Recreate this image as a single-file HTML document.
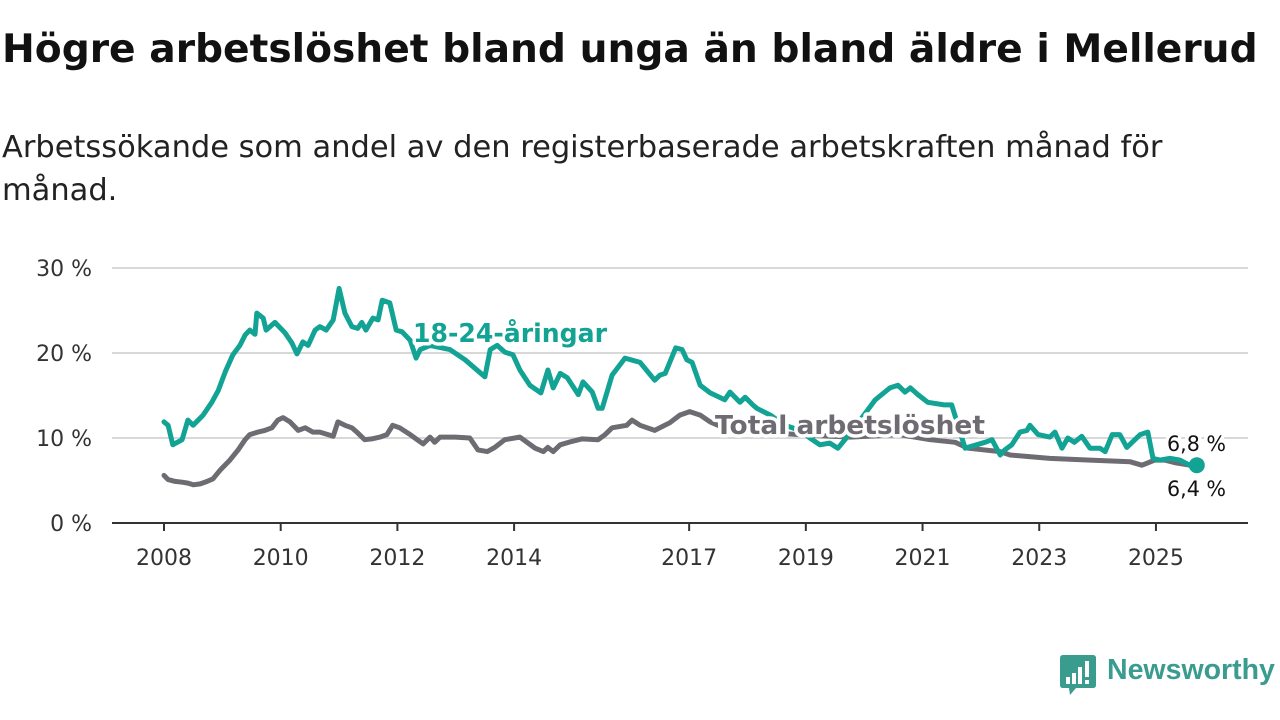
<!DOCTYPE html>
<html><head><meta charset="utf-8">
<style>
body{margin:0;width:1280px;height:720px;background:#fff;font-family:"DejaVu Sans","Liberation Sans",sans-serif;overflow:hidden;position:relative;color:#111}
h1{position:absolute;left:2px;top:27px;margin:0;font-size:36px;font-weight:bold;color:#111;white-space:nowrap}
.sub{position:absolute;left:2px;top:126px;margin:0;font-size:27px;line-height:43px;color:#222;white-space:nowrap}
svg{position:absolute;left:0;top:0}
.logo{position:absolute;left:1060px;top:655px}
.logo-text{position:absolute;left:1107px;top:654px;font-size:28px;color:#3a9b8f;font-weight:bold;white-space:nowrap;font-family:"Liberation Sans",sans-serif}
</style></head><body>
<h1 id="title">Högre arbetslöshet bland unga än bland äldre i Mellerud</h1>
<p class="sub"><span id="sub1">Arbetssökande som andel av den registerbaserade arbetskraften månad för</span><br>månad.</p>
<svg id="chart" width="1280" height="720"></svg>
<svg class="logo" width="36" height="42"><path d="M3 0H33Q36 0 36 3V30Q36 33 33 33H16L10 40L9 33H3Q0 33 0 30V3Q0 0 3 0Z" fill="#3a9b8f"/><rect x="6" y="22" width="4" height="7" fill="#fff"/><rect x="12" y="18" width="4" height="11" fill="#fff"/><rect x="18" y="12" width="4" height="17" fill="#fff"/><rect x="25" y="6" width="4" height="16" fill="#fff"/><rect x="25" y="25" width="4" height="4" fill="#fff"/></svg>
<div class="logo-text" id="logotext">Newsworthy</div>
<script>
const youthYears=[2008.0,2008.07,2008.15,2008.31,2008.41,2008.5,2008.67,2008.82,2008.93,2009.05,2009.18,2009.3,2009.39,2009.47,2009.56,2009.59,2009.7,2009.75,2009.9,2010.07,2010.19,2010.28,2010.38,2010.47,2010.59,2010.67,2010.78,2010.9,2011.0,2011.1,2011.22,2011.32,2011.39,2011.46,2011.58,2011.67,2011.74,2011.87,2011.98,2012.08,2012.22,2012.32,2012.39,2012.56,2012.9,2013.16,2013.33,2013.5,2013.59,2013.71,2013.84,2013.98,2014.1,2014.27,2014.46,2014.58,2014.67,2014.79,2014.91,2015.1,2015.18,2015.34,2015.44,2015.51,2015.68,2015.9,2016.16,2016.41,2016.5,2016.59,2016.77,2016.88,2016.96,2017.05,2017.19,2017.36,2017.61,2017.7,2017.87,2017.96,2018.09,2018.16,2018.39,2018.64,2018.9,2019.07,2019.24,2019.41,2019.55,2019.67,2019.93,2020.19,2020.44,2020.58,2020.7,2020.79,2020.92,2021.09,2021.37,2021.5,2021.73,2022.07,2022.19,2022.33,2022.41,2022.53,2022.67,2022.79,2022.84,2022.98,2023.18,2023.27,2023.39,2023.49,2023.6,2023.73,2023.87,2024.04,2024.13,2024.25,2024.38,2024.5,2024.73,2024.86,2024.95,2025.07,2025.24,2025.41,2025.58,2025.7];
const youthVals=[11.9,11.5,9.2,9.8,12.1,11.5,12.7,14.2,15.6,17.8,19.8,20.9,22.1,22.7,22.2,24.7,24.1,22.7,23.6,22.4,21.2,19.9,21.3,20.9,22.7,23.1,22.7,23.9,27.6,24.7,23.1,22.9,23.6,22.7,24.1,23.9,26.2,25.9,22.7,22.5,21.5,19.4,20.4,20.9,20.4,19.2,18.2,17.2,20.4,20.9,20.1,19.8,18.0,16.2,15.3,18.0,15.9,17.6,17.1,15.1,16.6,15.4,13.5,13.5,17.4,19.4,18.9,16.8,17.4,17.6,20.6,20.4,19.2,18.9,16.2,15.3,14.5,15.4,14.2,14.8,13.9,13.5,12.7,11.5,10.9,10.0,9.2,9.4,8.8,9.8,12.1,14.5,15.9,16.2,15.4,15.9,15.1,14.2,13.9,13.9,8.8,9.5,9.8,8.0,8.6,9.2,10.7,10.9,11.5,10.4,10.1,10.7,8.8,10.0,9.5,10.2,8.8,8.8,8.4,10.4,10.4,8.9,10.4,10.7,7.6,7.4,7.6,7.4,6.8,6.8];
const totalYears=[2008.0,2008.07,2008.19,2008.31,2008.41,2008.5,2008.62,2008.74,2008.84,2008.96,2009.13,2009.27,2009.39,2009.47,2009.61,2009.73,2009.85,2009.95,2010.04,2010.16,2010.3,2010.42,2010.55,2010.67,2010.81,2010.9,2010.98,2011.1,2011.22,2011.32,2011.44,2011.56,2011.7,2011.82,2011.92,2012.04,2012.22,2012.34,2012.44,2012.56,2012.64,2012.73,2012.99,2013.24,2013.38,2013.54,2013.67,2013.84,2014.1,2014.36,2014.5,2014.58,2014.67,2014.79,2014.99,2015.16,2015.44,2015.56,2015.68,2015.93,2016.02,2016.16,2016.41,2016.67,2016.84,2017.01,2017.19,2017.36,2017.7,2018.21,2018.9,2019.76,2020.61,2021.13,2021.56,2021.78,2022.33,2022.5,2023.18,2023.87,2024.56,2024.76,2024.98,2025.15,2025.32,2025.58,2025.7];
const totalVals=[5.6,5.1,4.9,4.8,4.7,4.5,4.6,4.9,5.2,6.2,7.4,8.6,9.8,10.4,10.7,10.9,11.2,12.1,12.4,11.9,10.9,11.2,10.7,10.7,10.4,10.2,11.9,11.5,11.2,10.6,9.8,9.9,10.1,10.4,11.5,11.2,10.4,9.8,9.3,10.1,9.5,10.1,10.1,10.0,8.6,8.4,8.9,9.8,10.1,8.8,8.4,8.9,8.4,9.2,9.6,9.9,9.8,10.4,11.2,11.5,12.1,11.5,10.9,11.8,12.7,13.1,12.7,11.9,10.9,10.7,10.4,10.1,10.4,9.8,9.5,8.8,8.4,8.0,7.6,7.4,7.2,6.8,7.4,7.4,7.1,6.8,6.4];
const yTicks=[0,10,20,30];
const yTickLabels=["0 %","10 %","20 %","30 %"];
const xTicks=[2008,2010,2012,2014,2017,2019,2021,2023,2025];

function fit(el,w){const cs=parseFloat(getComputedStyle(el).fontSize);const cur=el.getBoundingClientRect().width;el.style.fontSize=(cs*w/cur)+'px';}
const t=document.getElementById('title');fit(t,1256);
const s1=document.getElementById('sub1');const p=s1.parentNode;const f0=parseFloat(getComputedStyle(p).fontSize);p.style.fontSize=(f0*1161/s1.getBoundingClientRect().width)+'px';
fit(document.getElementById('logotext'),168);

const NS="http://www.w3.org/2000/svg";
const svg=document.getElementById('chart');
const X=y=>164+(y-2008)*58.35;
const Y=v=>523-v*8.5;
function mk(tag,attrs,parent){const e=document.createElementNS(NS,tag);for(const k in attrs)e.setAttribute(k,attrs[k]);(parent||svg).appendChild(e);return e;}
const FF='DejaVu Sans, Liberation Sans, sans-serif';
yTicks.forEach((tv,i)=>{
  if(tv>0){const g=mk('line',{x1:112,x2:1248,y1:Y(tv),y2:Y(tv),stroke:'#d8d8d8','stroke-width':2});
  
  }
  const l=mk('text',{x:92,y:Y(tv)+8,'text-anchor':'end','font-size':22,fill:'#333','font-family':FF});
  l.textContent=yTickLabels[i];
  
  
});
const ax=mk('line',{x1:112,x2:1248,y1:Y(0),y2:Y(0),stroke:'#333','stroke-width':2});


xTicks.forEach(tv=>{
  const tk=mk('line',{x1:X(tv),x2:X(tv),y1:Y(0),y2:Y(0)+8,stroke:'#333','stroke-width':2});
  
  
  const l=mk('text',{x:X(tv),y:565,'text-anchor':'middle','font-size':22,fill:'#333','font-family':FF});
  l.textContent=tv;
  
  
});
function line(xs,vs,color,name){
  const d=xs.map((x,i)=>(i?'L':'M')+X(x).toFixed(1)+' '+Y(vs[i]).toFixed(1)).join(' ');
  const pp=mk('path',{d:d,fill:'none',stroke:color,'stroke-width':5,'stroke-linejoin':'round','stroke-linecap':'round'});
  
  
}
line(totalYears,totalVals,'#6e6c72','total-line');
line(youthYears,youthVals,'#12a394','youth-line');
const dot=mk('circle',{cx:X(youthYears[youthYears.length-1]),cy:Y(youthVals[youthVals.length-1]),r:8,fill:'#12a394'});


function label(txt,x,y,color,size,bold,name,len){
  const tt=mk('text',{x:x,y:y,'font-size':size,fill:color,'font-weight':bold?'bold':'normal','font-family':FF,stroke:'#fff','stroke-width':7,'paint-order':'stroke','stroke-linejoin':'round',textLength:len,lengthAdjust:'spacingAndGlyphs'});
  tt.textContent=txt;
  
  
}
label('18-24-åringar',413,342,'#12a394',26,true,'youth-series-label',194);
label('Total arbetslöshet',715,434,'#6e6c72',26,true,'total-series-label',270);
label('6,8 %',1167,451,'#111',21,false,'youth-end-value',59);
label('6,4 %',1167,496,'#111',21,false,'total-end-value',59);
</script>
</body></html>
